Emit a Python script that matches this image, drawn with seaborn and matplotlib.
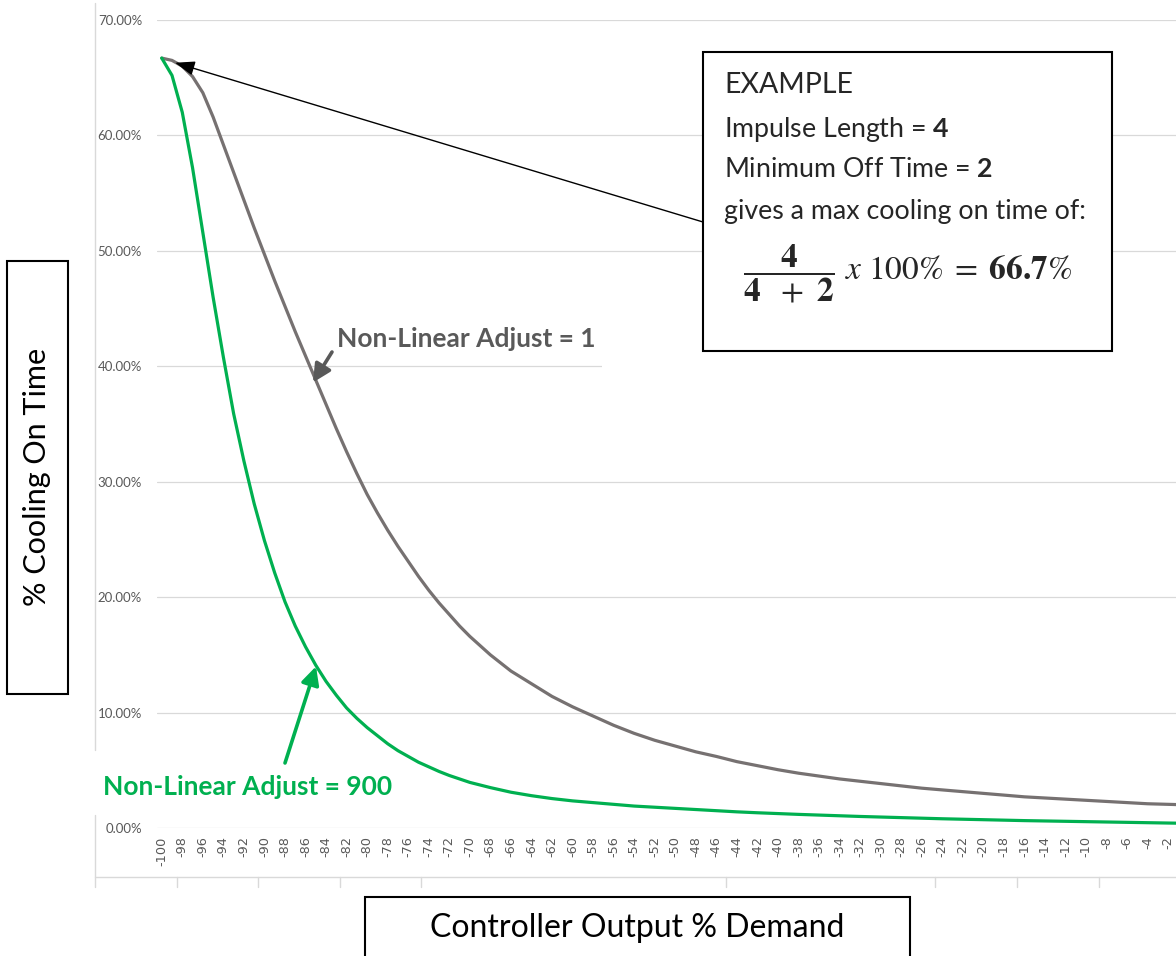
import matplotlib
matplotlib.use('Agg')
import pandas as pd
import matplotlib.pyplot as plt
import seaborn as sns
from matplotlib.patches import Rectangle
from matplotlib.lines import Line2D

# controller output (% demand): every unit on the steep part, every 2 after
demand = list(range(-100, -70)) + list(range(-70, 1, 2))

# % cooling on time
adjust_1 = [66.7, 66.5, 66.0, 65.1, 63.7, 61.6, 59.2, 56.8, 54.4, 52.0,
            49.7, 47.4, 45.2, 43.0, 40.9, 38.8, 36.7, 34.6, 32.6, 30.7,
            28.9, 27.3, 25.8, 24.4, 23.1, 21.8, 20.6, 19.5, 18.5, 17.5,
            16.6, 15.0, 13.6, 12.5, 11.4, 10.5, 9.7, 8.9, 8.2, 7.6,
            7.1, 6.6, 6.2, 5.75, 5.4, 5.05, 4.75, 4.5, 4.25, 4.05,
            3.85, 3.65, 3.45, 3.3, 3.15, 3.0, 2.85, 2.7, 2.6, 2.5,
            2.4, 2.3, 2.2, 2.1, 2.05, 2.0]
adjust_900 = [66.7, 65.2, 62.0, 57.2, 51.6, 46.0, 40.8, 35.9, 31.8, 28.1,
              24.9, 22.1, 19.6, 17.5, 15.7, 14.1, 12.7, 11.5, 10.4, 9.5,
              8.7, 8.0, 7.3, 6.7, 6.2, 5.7, 5.3, 4.9, 4.55, 4.25,
              3.95, 3.5, 3.1, 2.8, 2.55, 2.35, 2.2, 2.05, 1.9, 1.8,
              1.7, 1.6, 1.5, 1.4, 1.32, 1.25, 1.18, 1.12, 1.06, 1.0,
              0.95, 0.9, 0.85, 0.8, 0.76, 0.72, 0.68, 0.64, 0.61, 0.58,
              0.55, 0.52, 0.49, 0.46, 0.43, 0.4]
series_names = ['Non-Linear Adjust = 1', 'Non-Linear Adjust = 900']
x_ticks = list(range(-100, -1, 2))
y_ticks = [0, 10, 20, 30, 40, 50, 60, 70]

GRAY = '#767171'
GREEN = '#00b050'
GRID = '#d9d9d9'
TICK = '#595959'

df = pd.DataFrame({
    'demand': demand * 2,
    'pct': adjust_1 + adjust_900,
    'series': [series_names[0]] * len(demand) + [series_names[1]] * len(demand),
})

sns.set_style('white')
plt.rcParams['font.family'] = ['Lato', 'DejaVu Sans']
plt.rcParams['mathtext.fontset'] = 'custom'
plt.rcParams['mathtext.rm'] = 'Lato'
plt.rcParams['mathtext.bf'] = 'Lato:bold'

W, H = 1176, 956
fig = plt.figure(figsize=(W / 100, H / 100), dpi=100)


def fx(px):
    return px / W


def fy(py):
    return 1 - py / H


# plot area: -100 category centred at x=161.7px, 10.27px per unit; runs past the right edge
ax = fig.add_axes([fx(156.6), fy(828), (101 * 10.27) / W, (828 - 20) / H])
sns.lineplot(data=df, x='demand', y='pct', hue='series',
             palette={series_names[0]: GRAY, series_names[1]: GREEN},
             linewidth=2.3, legend=False, ax=ax, zorder=3)
for ln in ax.lines:
    ln.set_solid_joinstyle('round')

ax.set_xlim(-100.5, 0.5)
ax.set_ylim(0, 70)
ax.set_xticks(x_ticks)
ax.set_xticklabels([str(d) for d in x_ticks], rotation=90, fontsize=9.3,
                   color=TICK, family='DejaVu Sans')
ax.set_yticks(y_ticks)
ax.set_yticklabels(['%.2f%%' % v for v in y_ticks], fontsize=9.5, color=TICK)
ax.tick_params(axis='x', length=0, pad=6)
ax.tick_params(axis='y', length=0, pad=10.5)
ax.grid(axis='y', color=GRID, linewidth=0.9)
ax.set_xlabel('')
ax.set_ylabel('')
for s in ax.spines.values():
    s.set_visible(False)

# the 40% gridline stops short under the label
ax.add_patch(Rectangle((-57.1, 39.4), 60, 1.2, facecolor='white', edgecolor='none', zorder=1))

# outer chart frame
frame = dict(color=GRID, linewidth=1.0, transform=fig.transFigure)
fig.add_artist(Line2D([fx(95), fx(95)], [fy(3), fy(750)], **frame))
fig.add_artist(Line2D([fx(95), fx(95)], [fy(815), fy(887)], **frame))
fig.add_artist(Line2D([fx(95), fx(1176)], [fy(877), fy(877)], **frame))
for tx in [177, 258, 340, 421, 726, 935, 1017, 1099]:
    fig.add_artist(Line2D([fx(tx), fx(tx)], [fy(877), fy(887)], **frame))

# axis title boxes
box = dict(facecolor='white', edgecolor='black', linewidth=1.5, transform=fig.transFigure)
fig.add_artist(Rectangle((fx(7), fy(694)), fx(61), (694 - 261) / H, **box))
fig.text(fx(37.5), fy(477), '% Cooling On Time', rotation=90, ha='center', va='center',
         fontsize=22, color='black')
fig.add_artist(Rectangle((fx(365), fy(962)), fx(545), (962 - 897) / H, **box))
fig.text(fx(637), fy(928), 'Controller Output % Demand', ha='center', va='center',
         fontsize=23, color='black')

# example box
fig.add_artist(Rectangle((fx(703), fy(351)), fx(409), (351 - 52) / H, **box))
fig.text(fx(724), fy(93), 'EXAMPLE', fontsize=20.5, va='baseline', zorder=3)
fig.text(fx(724), fy(137), r'Impulse Length = $\mathbf{4}$', fontsize=19.3, va='baseline', zorder=3)
fig.text(fx(724), fy(177), r'Minimum Off Time = $\mathbf{2}$', fontsize=19.3, va='baseline', zorder=3)
fig.text(fx(724), fy(219), 'gives a max cooling on time of:', fontsize=19.3, va='baseline', zorder=3)
fig.text(fx(743), fy(280),
         r'$\dfrac{\mathbf{4}}{\mathbf{4}\ \ +\ \mathbf{2}}\ x\ 100\%\;=\;\mathbf{66.7}\%$',
         fontsize=24, va='baseline', math_fontfamily='stix', zorder=3)

# arrows and series labels
ax.annotate('', xy=(-98.7, 66.3), xycoords='data', xytext=(703, H - 222),
            textcoords='figure pixels',
            arrowprops=dict(arrowstyle='-|>,head_length=0.6,head_width=0.22', color='black',
                            lw=1.0, shrinkA=0, shrinkB=0, mutation_scale=20), zorder=5)
ax.annotate('', xy=(-85.27, 38.6), xycoords='data', xytext=(332, H - 352),
            textcoords='figure pixels',
            arrowprops=dict(arrowstyle='-|>,head_length=0.6,head_width=0.3', color=TICK,
                            lw=2.6, shrinkA=0, shrinkB=0, mutation_scale=18), zorder=5)
ax.annotate('', xy=(-84.98, 14.0), xycoords='data', xytext=(285, H - 763),
            textcoords='figure pixels',
            arrowprops=dict(arrowstyle='-|>,head_length=0.6,head_width=0.3', color=GREEN,
                            lw=2.6, shrinkA=0, shrinkB=0, mutation_scale=18), zorder=5)
fig.text(fx(337), fy(347), series_names[0], fontsize=19, fontweight='bold', color=TICK,
         va='baseline')
fig.text(fx(103), fy(795), series_names[1], fontsize=19, fontweight='bold', color=GREEN,
         va='baseline')

fig.savefig('out.png', dpi=100)
